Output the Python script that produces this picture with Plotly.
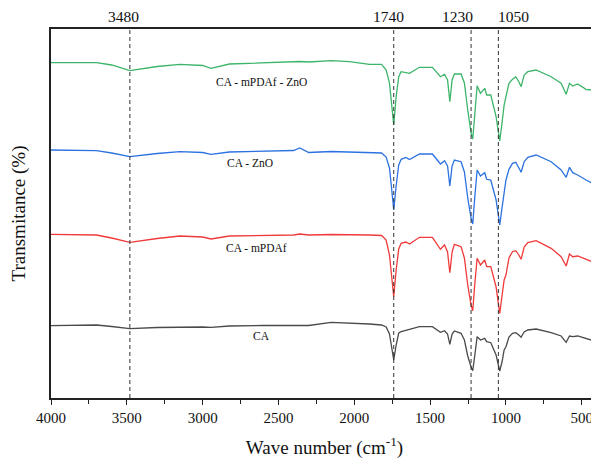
import plotly.graph_objects as go

# Wavenumber grid (cm-1)
wavenumber = [4000, 3700, 3600, 3480, 3300, 3150, 3000, 2945, 2824, 2600, 2400, 2360, 2300,
              2153, 2032, 1900, 1820, 1790, 1768, 1753, 1740, 1724, 1707, 1691, 1660, 1636,
              1570, 1485, 1432, 1405, 1385, 1370, 1355, 1340, 1296, 1274, 1252, 1230, 1219,
              1206, 1190, 1168, 1140, 1127, 1100, 1065, 1048, 1041, 1026, 1012, 1000, 980,
              957, 935, 915, 900, 880, 856, 801, 702, 636, 603, 581, 560, 527, 472, 406, 395]

# Transmittance (offset, arbitrary units)
t_ca_mpdaf_zno = [335.3, 335.3, 333, 327.3, 331.5, 333.7, 332.5, 329.7, 334, 335, 336, 336.5, 336,
                  337.3, 336.3, 333.7, 333.7, 328, 315, 291, 273, 301.3, 321.3, 326.3, 325.5, 324.7,
                  330.7, 330.7, 321.3, 323.7, 318, 296.3, 318, 324, 324, 315, 288, 265, 259,
                  285, 312.3, 304.7, 309.7, 303, 303, 281.3, 265, 257, 275, 293, 301.3, 314.7,
                  318.7, 321, 316.3, 311.3, 323, 326.3, 328, 321.3, 314.7, 303.7, 314.7, 312, 314, 308.7, 307.3, 306.3]

t_ca_zno = [248, 247.3, 245, 241.3, 244.5, 246.3, 245.5, 243.7, 246, 246.5, 247.5, 250, 245.5,
            246.5, 246, 245.3, 245, 241, 230, 208, 188, 212, 233, 238.7, 240.5, 238.5,
            244, 244, 234, 237.3, 232, 212, 232, 238, 236.3, 226, 200, 180, 174,
            200, 228, 222, 225.3, 218.7, 218, 198, 180, 173, 190, 208, 218, 228.7,
            234.7, 235.7, 230.7, 225.7, 236.3, 240.7, 243, 236.3, 228, 220.7, 230.7, 225.3, 223, 218, 213, 212]

t_ca_mpdaf = [163.7, 163, 160, 155.7, 159.5, 162, 161, 159, 162, 162.5, 163, 164, 163,
              163.5, 163.5, 163, 162.5, 158, 143, 120, 101.3, 128, 149, 154.7, 156, 154,
              160.7, 160.7, 148.7, 153, 146, 125.3, 146, 153.7, 151.3, 140, 113, 93, 87.3,
              113, 139.7, 133, 138, 131.3, 131.3, 111, 92, 84.7, 102, 118, 123, 140,
              146.3, 147.3, 143, 138.7, 151, 155.3, 157.3, 149.7, 141.3, 132, 144, 141.3, 142, 138.7, 135.3, 134]

t_ca = [72.3, 73, 71.5, 69.3, 70.5, 71, 71, 70.7, 72, 72.5, 72.5, 72, 72.5,
        75.7, 75, 74, 73, 71, 64, 50, 38, 53, 65, 66.3, 67.5, 68,
        71.3, 71.3, 65.7, 67.3, 64, 53.7, 64, 67, 64.7, 58, 42, 31, 27.3,
        42, 61.3, 58, 59.7, 56.3, 55.3, 43, 31, 27, 36, 48, 51.3, 61,
        64.7, 65.3, 63, 60.7, 66, 68, 69, 65.3, 62, 55.7, 62, 61.3, 62, 59.7, 56.3, 56]

series_names = ["CA - mPDAf - ZnO", "CA - ZnO", "CA - mPDAf", "CA"]
series_values = [t_ca_mpdaf_zno, t_ca_zno, t_ca_mpdaf, t_ca]
series_colors = ["#3cb46a", "#2c72e0", "#f03a3a", "#4a4a4a"]
label_x = [2615, 2686, 2646, 2609]
label_y = [316, 235, 150, 62]

peak_positions = [3480, 1740, 1230, 1050]
peak_labels = ["3480", "1740", "1230", "1050"]
peak_label_shift = [-6, -5, -14, 15]

x_tick_vals = [4000, 3500, 3000, 2500, 2000, 1500, 1000, 500]

FONT = "Liberation Serif"

fig = go.Figure()
for name, vals, col in zip(series_names, series_values, series_colors):
    assert len(vals) == len(wavenumber), name
    fig.add_trace(go.Scatter(x=wavenumber, y=vals, mode="lines", name=name,
                             line=dict(color=col, width=1.3), showlegend=False))

for p, lab, sh in zip(peak_positions, peak_labels, peak_label_shift):
    fig.add_shape(type="line", xref="x", yref="paper", x0=p, x1=p, y0=0, y1=1,
                  line=dict(color="#333333", width=1, dash="4px,3px"))
    fig.add_annotation(x=p, y=1.0, xref="x", yref="paper", yshift=13, xshift=sh, text=lab,
                       showarrow=False, font=dict(family=FONT, size=15.5, color="#111111"),
                       yanchor="middle")

for name, lx, ly in zip(series_names, label_x, label_y):
    fig.add_annotation(x=lx, y=ly, text=name, showarrow=False,
                       font=dict(family=FONT, size=11.5, color="#111111"))

# page body has an 8px margin: figure is shrunk so the plot area lands where the reference has it
fig.update_layout(
    width=591, height=451,
    margin=dict(l=43, r=1, t=21, b=61, autoexpand=False),
    paper_bgcolor="white", plot_bgcolor="white",
    font=dict(family=FONT, size=15, color="#111111"),
    xaxis=dict(range=[4000, 393], tickvals=x_tick_vals, ticks="outside", ticklen=5,
               tickwidth=1, tickcolor="#222222", automargin=False,
               showline=True, linecolor="#222222", linewidth=1.5, mirror=True,
               showgrid=False, zeroline=False,
               minor=dict(dtick=250, tick0=0, ticks="outside", ticklen=4, tickcolor="#222222", showgrid=False),
               tickfont=dict(family=FONT, size=15),
               title=dict(text="Wave number (cm<sup>-1</sup>)", font=dict(family=FONT, size=19), standoff=19)),
    yaxis=dict(range=[0, 369], showticklabels=False, ticks="", showgrid=False, zeroline=False,
               automargin=False,
               showline=True, linecolor="#222222", linewidth=1.5,
               title=dict(text="Transmitance (%)", font=dict(family=FONT, size=19), standoff=25)),
)

fig.write_html("out.html")
